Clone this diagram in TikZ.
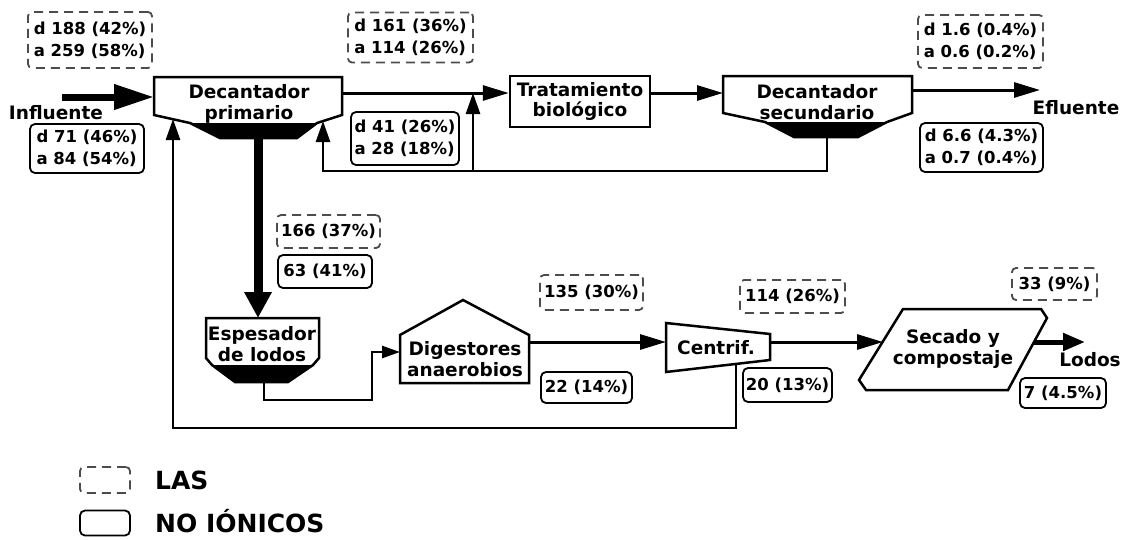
\documentclass[tikz,border=0pt]{standalone}
\usepackage{fontspec}
\setmainfont{DejaVu Sans}
\usetikzlibrary{arrows.meta}
\newcommand{\mybxfont}{\fontsize{16.5}{22}\selectfont\bfseries}
\newcommand{\myblkfont}{\fontsize{18.5}{20.5}\selectfont\bfseries}
\newcommand{\mylegfont}{\fontsize{25}{28}\selectfont\bfseries}
\tikzset{
  blk/.style={draw=black, fill=white, line width=2.5pt, line join=miter},
  blktxt/.style={font=\myblkfont, align=center, inner sep=0pt},
  flow/.style={line width=3pt, -{Triangle[length=26pt,width=15pt]}},
  retflow/.style={line width=2.6pt, -{Triangle[length=21pt,width=14pt]}},
  lasbox/.style={draw=black!70, line width=1.8pt, dash pattern=on 9pt off 6pt, rounded corners=4pt, inner sep=0pt, align=left, font=\mybxfont},
  nibox/.style={draw=black, line width=1.8pt, rounded corners=5pt, inner sep=0pt, align=left, font=\mybxfont},
  lbl/.style={font=\myblkfont, inner sep=0pt},
}
\begin{document}
\begin{tikzpicture}[x=1pt,y=-1pt]
\useasboundingbox (0,0) rectangle (1130,539);

% ---------- blocks ----------
% Decantador primario
\draw[blk] (154,77) -- (342,77) -- (342,115) -- (317,123) -- (297,138) -- (220,138) -- (190,123) -- (154,115) -- cycle;
\fill (190,123) -- (317,123) -- (297,138) -- (220,138) -- cycle;
\node[blktxt] (Ptxt) at (249,104) {Decantador\\primario};

% Tratamiento biologico
\node[draw, line width=2.5pt, minimum width=140pt, minimum height=51pt, blktxt, inner sep=0pt] (T) at (580,101.5) {Tratamiento\\biológico};

% Decantador secundario
\draw[blk] (723,76) -- (912,76) -- (912,113) -- (887,122) -- (858,137) -- (794,137) -- (765,122) -- (723,113) -- cycle;
\fill (765,122) -- (887,122) -- (858,137) -- (794,137) -- cycle;
\node[blktxt] (Stxt) at (817,102) {Decantador\\secundario};

% Espesador de lodos
\draw[blk] (206,318) -- (319,318) -- (319,358) -- (313,365) -- (288,382) -- (235,382) -- (212,365) -- (206,358) -- cycle;
\fill (212,365) -- (313,365) -- (288,382) -- (235,382) -- cycle;
\node[blktxt] (Etxt) at (262,344) {Espesador\\de lodos};

% Digestores anaerobios
\draw[blk] (400,335) -- (463,300) -- (529,335) -- (529,383) -- (400,383) -- cycle;
\node[blktxt] (Dtxt) at (465,359) {Digestores\\anaerobios};

% Centrif.
\draw[blk] (666,323) -- (770,334) -- (770,360) -- (666,372) -- cycle;
\node[blktxt] (Ctxt) at (716,348) {Centrif.};

% Secado y compostaje
\draw[blk] (903,309) -- (1041,309) -- (1047,318) -- (1008,390) -- (866,390) -- (859,380) -- cycle;
\node[blktxt] (Ktxt) at (953,349) {Secado y\\compostaje};

% ---------- connector points ----------
\coordinate (infl-start) at (62,97);
\coordinate (P-in) at (154,97);
\coordinate (P-out) at (342,93);
\coordinate (T-out) at (650,93);
\coordinate (S-in) at (723,93);
\coordinate (S-out) at (912,90);
\coordinate (eff-end) at (1040,90);
\coordinate (S-bot) at (827,137);
\coordinate (P-ret) at (323,121);
\coordinate (br) at (473,171);
\coordinate (br-top) at (473,93);
\coordinate (P-bot) at (258,138);
\coordinate (E-top) at (258,318);
\coordinate (E-bot) at (264,382);
\coordinate (E-bend) at (372,400);
\coordinate (D-in) at (400,352);
\coordinate (D-out) at (529,342);
\coordinate (C-in) at (666,342);
\coordinate (C-out) at (770,342);
\coordinate (K-in) at (883,342);
\coordinate (K-out) at (1034,342);
\coordinate (lod-end) at (1085,342);
\coordinate (C-bot) at (736,364);
\coordinate (ret-bend) at (173,428);
\coordinate (P-ret2) at (173,119);

% ---------- connectors ----------
\draw[line width=7pt, -{Triangle[length=40pt,width=24pt]}] (infl-start) -- (P-in);
\draw[flow] (P-out) -- (T.west |- P-out);
\draw[flow] (T-out) -- (S-in);
\draw[flow] (S-out) -- (eff-end);
\draw[retflow] (S-bot) |- (P-ret |- br) -- (P-ret);
\draw[retflow] (br) -- (br-top);
\draw[line width=9pt, -{Triangle[length=26pt,width=26pt]}] (P-bot) -- (E-top);
\draw[line width=2.6pt, -{Triangle[length=18pt,width=12pt]}] (E-bot) |- (E-bend) |- (D-in);
\draw[flow] (D-out) -- (C-in);
\draw[flow] (C-out) -- (K-in);
\draw[line width=5pt, -{Triangle[length=22pt,width=17pt]}] (K-out) -- (lod-end);
\draw[retflow] (C-bot) |- (ret-bend) -- (P-ret2);

% ---------- labels ----------
\node[lbl] (infl) at (56,113) {Influente};
\node[lbl] (eff) at (1076,108) {Efluente};
\node[lbl] (lod) at (1090,360) {Lodos};

% ---------- LAS boxes (dashed) ----------
\node[lasbox, minimum width=124pt, minimum height=56pt] (l1) at (90,40) {d 188 (42\%)\\a 259 (58\%)};
\node[lasbox, minimum width=125pt, minimum height=50pt] (l2) at (410.5,37.5) {d 161 (36\%)\\a 114 (26\%)};
\node[lasbox, minimum width=125pt, minimum height=53pt] (l3) at (980.5,41.5) {d 1.6 (0.4\%)\\a 0.6 (0.2\%)};
\node[lasbox, minimum width=103pt, minimum height=33pt] (l4) at (328.5,231.5) {166 (37\%)};
\node[lasbox, minimum width=103pt, minimum height=35pt] (l5) at (591.5,292.5) {135 (30\%)};
\node[lasbox, minimum width=105pt, minimum height=33pt] (l6) at (792.5,296.5) {114 (26\%)};
\node[lasbox, minimum width=85pt, minimum height=32pt] (l7) at (1054.5,284) {33 (9\%)};

% ---------- non-ionic boxes (solid) ----------
\node[nibox, minimum width=114pt, minimum height=49pt] (n1) at (87,148.5) {d 71 (46\%)\\a 84 (54\%)};
\node[nibox, minimum width=108pt, minimum height=53pt] (n2) at (405,138.5) {d 41 (26\%)\\a 28 (18\%)};
\node[nibox, minimum width=123pt, minimum height=49pt] (n3) at (981.5,147.5) {d 6.6 (4.3\%)\\a 0.7 (0.4\%)};
\node[nibox, minimum width=94pt, minimum height=33pt] (n4) at (325,271.5) {63 (41\%)};
\node[nibox, minimum width=91pt, minimum height=31pt] (n5) at (586.5,387.5) {22 (14\%)};
\node[nibox, minimum width=89pt, minimum height=34pt] (n6) at (787.5,385) {20 (13\%)};
\node[nibox, minimum width=86pt, minimum height=30pt] (n7) at (1063,393) {7 (4.5\%)};

% ---------- legend ----------
\node[lasbox, minimum width=50pt, minimum height=26pt] (leg1) at (105,480) {};
\node[nibox, minimum width=50pt, minimum height=25pt] (leg2) at (105,523) {};
\node[font=\mylegfont, anchor=west, inner sep=0pt] (leg1t) at (155,480) {LAS};
\node[font=\mylegfont, anchor=west, inner sep=0pt] (leg2t) at (155,521) {NO IÓNICOS};
\end{tikzpicture}
\end{document}
